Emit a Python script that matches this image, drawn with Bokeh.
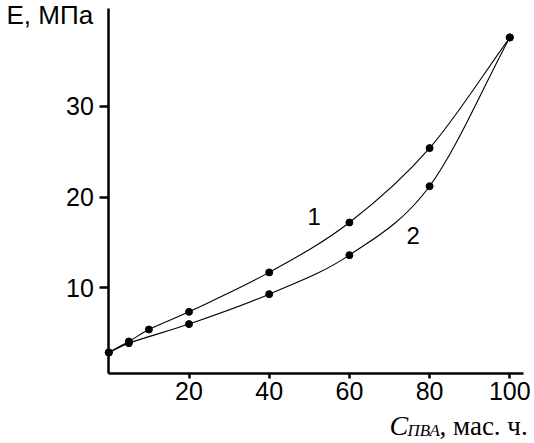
from bokeh.plotting import figure
from bokeh.models import Label, FixedTicker, Range1d, LinearAxis
from bokeh.embed import file_html
from bokeh.resources import INLINE

# ---- data ----
x1 = [0, 5, 10, 20, 40, 60, 80, 100]
y1 = [2.87, 4.08, 5.4, 7.35, 11.7, 17.2, 25.4, 37.6]
x2 = [0, 5, 20, 40, 60, 80, 100]
y2 = [2.87, 3.9, 6.0, 9.3, 13.6, 21.2, 37.6]
x_ticks = [20, 40, 60, 80, 100]
y_ticks = [10, 20, 30]
curve_names = ["1", "2"]

W, H = 534, 443
# pixel geometry of the axes in the picture
AX_X0 = 108.3          # page x of data x = 0
SX = 4.01              # px per x unit
AX_Y0 = 378.0          # page y of data y = 0
SY = 9.07              # px per y unit

XS, XE = -AX_X0 / SX, (W - AX_X0) / SX
YS, YE = (AX_Y0 - H) / SY, AX_Y0 / SY

TXT_DY = -10.0         # empirical baseline correction for text labels


def X(px):
    return (px - AX_X0) / SX


def Y(py):
    return (AX_Y0 - py) / SY


def TY(py):
    return Y(py + TXT_DY)


p = figure(width=W, height=H, output_backend="svg", toolbar_location=None,
           x_range=Range1d(XS, XE), y_range=Range1d(YS, YE),
           x_axis_location=None, y_axis_location=None,
           min_border=0)
p.title.visible = False
p.outline_line_color = None
p.xgrid.visible = False
p.ygrid.visible = False
p.background_fill_color = "white"
p.border_fill_color = "white"

x_axis_y = Y(372.7)
x_axis_end = X(522.7)
y_axis_top = Y(8.0)

xax = LinearAxis(fixed_location=x_axis_y, bounds=(0, x_axis_end))
yax = LinearAxis(fixed_location=0, bounds=(x_axis_y, y_axis_top))

for ax, ticks, tout, so in ((xax, x_ticks, 5, 4), (yax, y_ticks, 9, 6)):
    ax.ticker = FixedTicker(ticks=ticks)
    ax.axis_line_width = 2.5
    ax.axis_line_color = "black"
    ax.major_tick_line_width = 2.5
    ax.major_tick_line_color = "black"
    ax.major_tick_out = tout
    ax.major_tick_in = 0
    ax.minor_tick_line_color = None
    ax.major_label_text_font = "Liberation Sans"
    ax.major_label_text_font_size = "25px"
    ax.major_label_text_color = "black"
    ax.major_label_standoff = so

p.add_layout(xax, "below")
p.add_layout(yax, "left")


def hermite_bezier(xs, ys):
    n = len(xs)
    m = []
    for i in range(n):
        if i == 0:
            m.append((ys[1] - ys[0]) / (xs[1] - xs[0]))
        elif i == n - 1:
            m.append((ys[-1] - ys[-2]) / (xs[-1] - xs[-2]))
        else:
            m.append((ys[i + 1] - ys[i - 1]) / (xs[i + 1] - xs[i - 1]))
    segs = dict(x0=[], y0=[], x1=[], y1=[], cx0=[], cy0=[], cx1=[], cy1=[])
    for i in range(n - 1):
        h = (xs[i + 1] - xs[i]) / 3.0
        segs["x0"].append(xs[i]); segs["y0"].append(ys[i])
        segs["x1"].append(xs[i + 1]); segs["y1"].append(ys[i + 1])
        segs["cx0"].append(xs[i] + h); segs["cy0"].append(ys[i] + m[i] * h)
        segs["cx1"].append(xs[i + 1] - h); segs["cy1"].append(ys[i + 1] - m[i + 1] * h)
    return segs


for xs, ys in ((x1, y1), (x2, y2)):
    s = hermite_bezier(xs, ys)
    p.bezier(x0=s["x0"], y0=s["y0"], x1=s["x1"], y1=s["y1"],
             cx0=s["cx0"], cy0=s["cy0"], cx1=s["cx1"], cy1=s["cy1"],
             line_color="black", line_width=1.1)
    p.scatter(xs, ys, size=7, color="black")

sans = "Liberation Sans"
serif = "Liberation Serif"
p.add_layout(Label(x=X(6), y=TY(24), text="E, МПа", text_font=sans,
                   text_font_size="26px", text_color="black",
                   text_baseline="alphabetic"))
p.add_layout(Label(x=X(307), y=TY(226), text=curve_names[0], text_font=sans,
                   text_font_size="24px", text_color="black",
                   text_baseline="alphabetic"))
p.add_layout(Label(x=X(406), y=TY(245), text=curve_names[1], text_font=sans,
                   text_font_size="24px", text_color="black",
                   text_baseline="alphabetic"))
p.add_layout(Label(x=X(389), y=TY(435), text="C", text_font=serif,
                   text_font_size="28px", text_font_style="italic",
                   text_color="black", text_baseline="alphabetic"))
p.add_layout(Label(x=X(407), y=TY(440), text="ПВА", text_font=serif,
                   text_font_size="17px", text_font_style="italic",
                   text_color="black", text_baseline="alphabetic"))
p.add_layout(Label(x=X(439), y=TY(435), text=", мас. ч.", text_font=serif,
                   text_font_size="27px", text_color="black",
                   text_baseline="alphabetic"))

open("out.html", "w").write(file_html(p, INLINE))
